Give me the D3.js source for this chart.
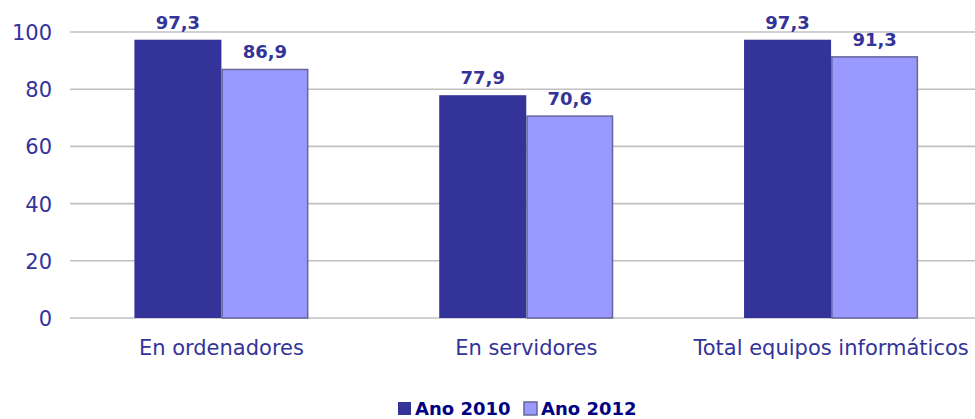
<!DOCTYPE html>
<html><head><meta charset="utf-8">
<script src="https://cdn.jsdelivr.net/npm/d3@7"></script>
<style>body{margin:0;background:#fff}svg{display:block}</style>
</head><body>
<svg id="c" width="975" height="419"></svg>
<script>
const categories = ["En ordenadores", "En servidores", "Total equipos informáticos"];
const seriesNames = ["Ano 2010", "Ano 2012"];
const values2010 = [97.3, 77.9, 97.3];
const values2012 = [86.9, 70.6, 91.3];
const yTicks = [0, 20, 40, 60, 80, 100];

const colors = ["#333399", "#9999FF"];
const strokes = ["#333399", "#666699"];
const svg = d3.select("#c");
const font = "'DejaVu Sans', Verdana, sans-serif";

const x0 = d3.scaleBand().domain(categories).range([69, 983.5]).paddingInner(0.429).paddingOuter(0.2145);
const x1 = d3.scaleBand().domain(seriesNames).range([0, x0.bandwidth()]);
const y = d3.scaleLinear().domain([0, 100]).range([318, 32]);

// gridlines
svg.append("g").selectAll("line").data(yTicks).join("line")
  .attr("x1", 70).attr("x2", 975)
  .attr("y1", d => y(d)).attr("y2", d => y(d))
  .attr("stroke", "#c0c0c0").attr("stroke-width", 1.6);

// y axis labels
const yAxis = d3.axisLeft(y).tickValues(yTicks).tickSize(0).tickPadding(0).tickFormat(d3.format("d"));
const ya = svg.append("g").attr("transform", "translate(52,0)").call(yAxis);
ya.select(".domain").remove();
ya.selectAll("text").attr("fill", "#333399").style("font-family", font).style("font-size", "21px").attr("dy", "0.36em");

const data = categories.map((c, i) => ({cat: c, vals: [values2010[i], values2012[i]]}));
const fmt = v => d3.format(".1f")(v).replace(".", ",");

const g = svg.append("g").selectAll("g").data(data).join("g")
  .attr("transform", d => `translate(${x0(d.cat)},0)`);

g.selectAll("rect").data(d => d.vals.map((v, k) => ({v, k}))).join("rect")
  .attr("x", d => x1(seriesNames[d.k]) + (d.k === 1 ? 0.75 : 0))
  .attr("width", d => x1.bandwidth() - (d.k === 1 ? 1.5 : 0))
  .attr("y", d => y(d.v))
  .attr("height", d => y(0) - y(d.v))
  .attr("fill", d => colors[d.k])
  .attr("stroke", d => d.k === 1 ? strokes[1] : "none")
  .attr("stroke-width", 1.5);

g.selectAll("text.val").data(d => d.vals.map((v, k) => ({v, k}))).join("text")
  .attr("class", "val")
  .attr("x", d => x1(seriesNames[d.k]) + x1.bandwidth() / 2)
  .attr("y", d => y(d.v) - 11)
  .attr("text-anchor", "middle")
  .attr("fill", "#333399")
  .style("font-family", font).style("font-weight", "bold").style("font-size", "18px")
  .text(d => fmt(d.v));

// x axis labels
const xAxis = d3.axisBottom(x0).tickSize(0).tickPadding(0);
const xa = svg.append("g").attr("transform", "translate(0,355)").call(xAxis);
xa.select(".domain").remove();
xa.selectAll("text").attr("fill", "#333399").attr("dy", 0).attr("y", 0)
  .style("font-family", font).style("font-size", "21px");

// legend
const legendX = [398, 524];
const lg = svg.append("g").selectAll("g").data(seriesNames).join("g")
  .attr("transform", (d, i) => `translate(${legendX[i]},402)`);
lg.append("rect").attr("width", 13).attr("height", 13)
  .attr("fill", (d, i) => colors[i])
  .attr("stroke", (d, i) => i === 1 ? strokes[1] : "none").attr("stroke-width", 1.5);
lg.append("text").attr("x", 17).attr("y", 13)
  .attr("fill", "#000080")
  .style("font-family", font).style("font-weight", "bold").style("font-size", "18px")
  .text(d => d);
</script>
</body></html>
